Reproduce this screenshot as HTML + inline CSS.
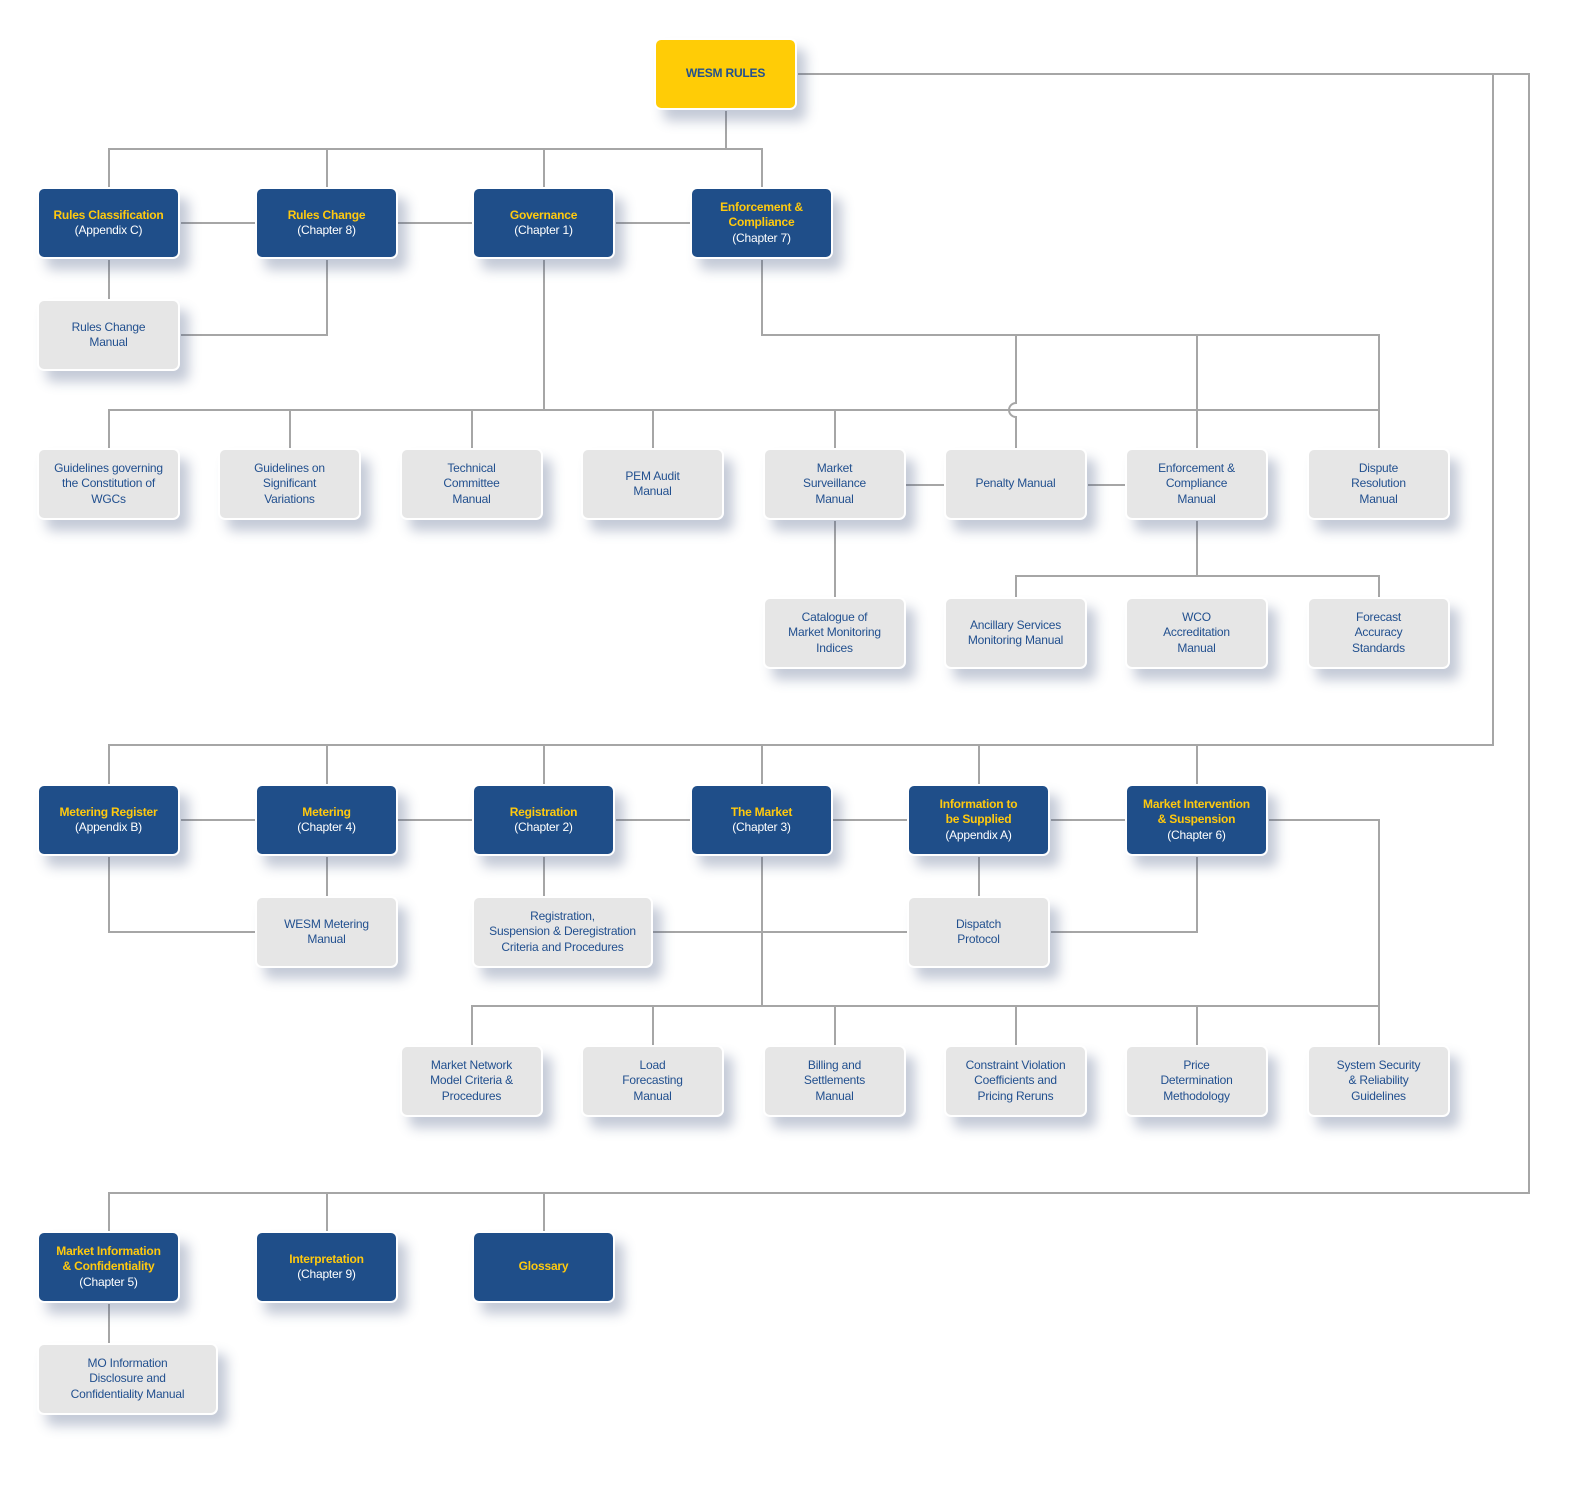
<!DOCTYPE html>
<html><head><meta charset="utf-8"><style>
body{margin:0;width:1576px;height:1500px;background:#fff;position:relative;overflow:hidden;font-family:"Liberation Sans",Arial,sans-serif}
svg{position:absolute;left:0;top:0}
.b{position:absolute;width:139px;height:68px;border:2px solid #fff;border-radius:7px;display:flex;align-items:center;justify-content:center;text-align:center;font-size:12px;line-height:15.5px;box-shadow:9px 11px 12px rgba(70,90,130,0.32);box-sizing:content-box;letter-spacing:-0.2px}
.d{background:#1f4e89;color:#fff}
.d b{color:#ffc90e}
.g{background:#e6e6e6;color:#22508f}
.y{background:#ffcc06;color:#22508f;font-weight:bold}
</style></head><body>
<svg width="1576" height="1500" fill="none" stroke="#a6a6a6" stroke-width="2">
<path d="M726 111V149M109 188V149H762V188M327 149V188M544 149V188"/>
<path d="M798 74H1529V1193H109V1232M327 1193V1232M544 1193V1232"/>
<path d="M1493 74V745H109V785M327 745V785M544 745V785M762 745V785M979 745V785M1197 745V785"/>
<path d="M181 223H256M398 223H473M616 223H691"/>
<path d="M109 260V300M181 335H327V260"/>
<path d="M544 260V410M109 449V410H1379M290 410V449M472 410V449M653 410V449M835 410V449"/>
<path d="M762 260V335H1379V449M1016 335V403A7 7 0 0 0 1016 417V449M1197 335V449"/>
<path d="M906 485H945M1088 485H1126M835 521V598M1197 521V576M1016 598V576H1379V598"/>
<path d="M181 820H256M398 820H473M616 820H691M833 820H908M1051 820H1126M1269 820H1379V1046"/>
<path d="M109 857V932H256M327 857V897M544 857V897M653 932H908M979 857V897M1051 932H1197V857"/>
<path d="M762 857V1006M472 1046V1006H1379M653 1006V1046M835 1006V1046M1016 1006V1046M1197 1006V1046"/>
<path d="M109 1304V1344"/>
</svg>
<div class="b y" style="left:654px;top:38px">WESM RULES</div>

<div class="b d" style="left:37px;top:187px"><div><b>Rules Classification</b><br>(Appendix C)</div></div>
<div class="b d" style="left:255px;top:187px"><div><b>Rules Change</b><br>(Chapter 8)</div></div>
<div class="b d" style="left:472px;top:187px"><div><b>Governance</b><br>(Chapter 1)</div></div>
<div class="b d" style="left:690px;top:187px"><div><b>Enforcement &amp;<br>Compliance</b><br>(Chapter 7)</div></div>
<div class="b g" style="left:37px;top:299px">Rules Change<br>Manual</div>

<div class="b g" style="left:37px;top:448px">Guidelines governing<br>the Constitution of<br>WGCs</div>
<div class="b g" style="left:218px;top:448px">Guidelines on<br>Significant<br>Variations</div>
<div class="b g" style="left:400px;top:448px">Technical<br>Committee<br>Manual</div>
<div class="b g" style="left:581px;top:448px">PEM Audit<br>Manual</div>
<div class="b g" style="left:763px;top:448px">Market<br>Surveillance<br>Manual</div>
<div class="b g" style="left:944px;top:448px">Penalty Manual</div>
<div class="b g" style="left:1125px;top:448px">Enforcement &amp;<br>Compliance<br>Manual</div>
<div class="b g" style="left:1307px;top:448px">Dispute<br>Resolution<br>Manual</div>

<div class="b g" style="left:763px;top:597px">Catalogue of<br>Market Monitoring<br>Indices</div>
<div class="b g" style="left:944px;top:597px">Ancillary Services<br>Monitoring Manual</div>
<div class="b g" style="left:1125px;top:597px">WCO<br>Accreditation<br>Manual</div>
<div class="b g" style="left:1307px;top:597px">Forecast<br>Accuracy<br>Standards</div>

<div class="b d" style="left:37px;top:784px"><div><b>Metering Register</b><br>(Appendix B)</div></div>
<div class="b d" style="left:255px;top:784px"><div><b>Metering</b><br>(Chapter 4)</div></div>
<div class="b d" style="left:472px;top:784px"><div><b>Registration</b><br>(Chapter 2)</div></div>
<div class="b d" style="left:690px;top:784px"><div><b>The Market</b><br>(Chapter 3)</div></div>
<div class="b d" style="left:907px;top:784px"><div><b>Information to<br>be Supplied</b><br>(Appendix A)</div></div>
<div class="b d" style="left:1125px;top:784px"><div><b>Market Intervention<br>&amp; Suspension</b><br>(Chapter 6)</div></div>

<div class="b g" style="left:255px;top:896px">WESM Metering<br>Manual</div>
<div class="b g" style="left:472px;top:896px;width:177px">Registration,<br>Suspension &amp; Deregistration<br>Criteria and Procedures</div>
<div class="b g" style="left:907px;top:896px">Dispatch<br>Protocol</div>

<div class="b g" style="left:400px;top:1045px">Market Network<br>Model Criteria &amp;<br>Procedures</div>
<div class="b g" style="left:581px;top:1045px">Load<br>Forecasting<br>Manual</div>
<div class="b g" style="left:763px;top:1045px">Billing and<br>Settlements<br>Manual</div>
<div class="b g" style="left:944px;top:1045px">Constraint Violation<br>Coefficients and<br>Pricing Reruns</div>
<div class="b g" style="left:1125px;top:1045px">Price<br>Determination<br>Methodology</div>
<div class="b g" style="left:1307px;top:1045px">System Security<br>&amp; Reliability<br>Guidelines</div>

<div class="b d" style="left:37px;top:1231px"><div><b>Market Information<br>&amp; Confidentiality</b><br>(Chapter 5)</div></div>
<div class="b d" style="left:255px;top:1231px"><div><b>Interpretation</b><br>(Chapter 9)</div></div>
<div class="b d" style="left:472px;top:1231px"><div><b>Glossary</b></div></div>
<div class="b g" style="left:37px;top:1343px;width:177px">MO Information<br>Disclosure and<br>Confidentiality Manual</div>
</body></html>
